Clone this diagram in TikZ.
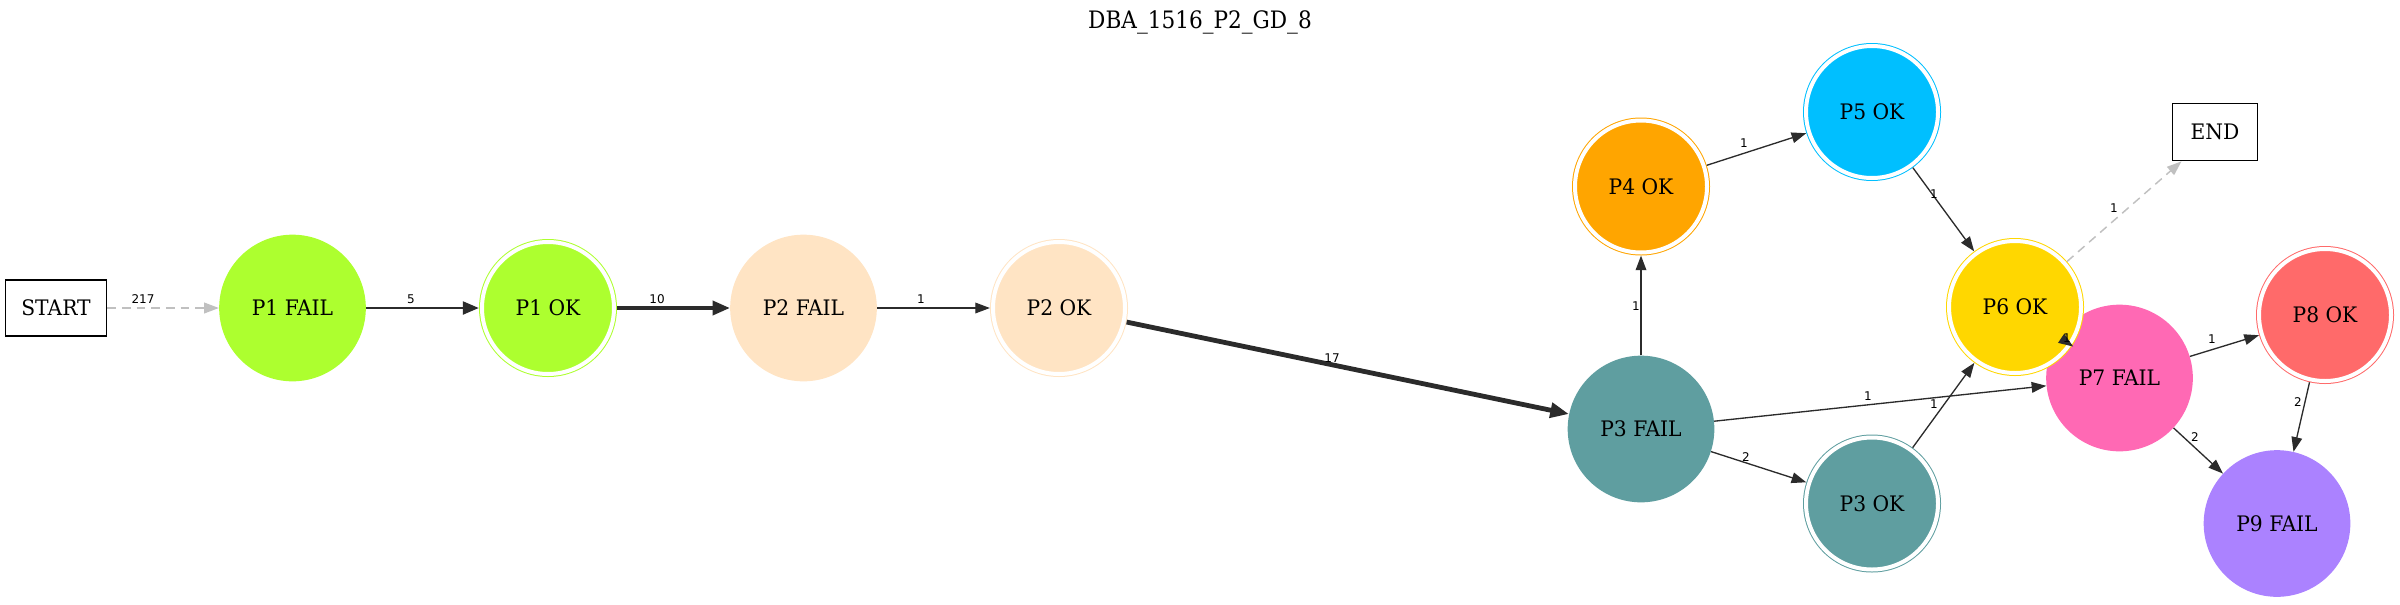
\documentclass[tikz,border=0pt]{standalone}
\usepackage{fontspec}
\setmainfont{DejaVu Serif}[FakeStretch=0.95]
\newfontfamily\titlefont{DejaVu Serif}[FakeStretch=0.9]
\newfontfamily\lblfont{DejaVu Sans}
\usetikzlibrary{arrows.meta,calc}
\definecolor{cP1}{HTML}{ADFF2F}
\definecolor{cP2}{HTML}{FFE4C4}
\definecolor{cP3}{HTML}{5F9EA0}
\definecolor{cP4}{HTML}{FFA500}
\definecolor{cP5}{HTML}{00BFFF}
\definecolor{cP6}{HTML}{FFD700}
\definecolor{cP7}{HTML}{FF69B4}
\definecolor{cP8}{HTML}{FF6A6A}
\definecolor{cP9}{HTML}{AB82FF}
\definecolor{edgec}{HTML}{2B2B2B}
\definecolor{grayc}{HTML}{C0C0C0}
\tikzset{
  nodetext/.style={font=\fontsize{16pt}{18pt}\selectfont},
  failnode/.style={nodetext, circle, fill=#1, draw=none, minimum size=110pt, inner sep=0pt},
  oknode/.style={nodetext, circle, fill=#1, draw=#1, double=white, double distance=3pt, line width=0.75pt, minimum size=99pt, inner sep=0pt, outer sep=2.3pt},
  boxnode/.style={nodetext, rectangle, draw=black, line width=1pt, inner sep=0pt},
  lbl/.style={font=\lblfont\fontsize{9pt}{10pt}\selectfont, inner sep=0pt, text=black},
  edge/.style={draw=edgec, line width=1pt, -{Triangle[length=11pt,width=8pt]}},
  edgeA/.style={draw=edgec, line width=2.2pt, -{Triangle[length=12pt,width=9.5pt]}},
  edgeB/.style={draw=edgec, line width=2.8pt, -{Triangle[length=13pt,width=10.5pt]}},
  edgeC/.style={draw=edgec, line width=3.6pt, -{Triangle[length=14pt,width=11pt]}},
  gedge/.style={draw=grayc, line width=1.1pt, dash pattern=on 6.5pt off 4.5pt, -{Triangle[length=11pt,width=8pt]}},
}
\begin{document}
\begin{tikzpicture}[x=0.75pt,y=-0.75pt]
\useasboundingbox (0,0) rectangle (2400,604);
\node[font=\titlefont\fontsize{18pt}{20pt}\selectfont] (title) at (1200,22) {DBA\_1516\_P2\_GD\_8};
% nodes
\node[boxnode, minimum width=75.75pt, minimum height=42pt] (start) at (56,308) {START};
\node[boxnode, minimum width=64pt, minimum height=43pt] (end) at (2215,132) {END};
\node[failnode=cP1] (p1f) at (292.5,308) {P1 FAIL};
\node[oknode=cP1] (p1o) at (548,308) {P1 OK};
\node[failnode=cP2] (p2f) at (803.5,308) {P2 FAIL};
\node[oknode=cP2] (p2o) at (1059,308) {P2 OK};
\node[failnode=cP3] (p3f) at (1641,429) {P3 FAIL};
\node[oknode=cP4] (p4o) at (1641,186.5) {P4 OK};
\node[oknode=cP5] (p5o) at (1872,112) {P5 OK};
\node[oknode=cP3] (p3o) at (1872,503.5) {P3 OK};
\node[failnode=cP7] (p7f) at (2119.5,378) {P7 FAIL};
\node[oknode=cP6] (p6o) at (2015,307) {P6 OK};
\node[oknode=cP8] (p8o) at (2325,315) {P8 OK};
\node[failnode=cP9] (p9f) at (2277,523.5) {P9 FAIL};
% edges
\draw[gedge] (start) -- (p1f);
\draw[edgeA] (p1f) -- (p1o);
\draw[edgeB] (p1o) -- (p2f);
\draw[edge] (p2f) -- (p2o);
\draw[edgeC] (p2o) -- (p3f);
\draw[edge] (p3f) -- (p4o);
\draw[edge] (p4o) -- (p5o);
\draw[edge] (p5o) -- (p6o);
\draw[edge] (p3f) -- (p7f);
\draw[edge] (p3f) -- (p3o);
\draw[edge] (p3o) -- (p6o);
\draw[gedge] (p6o) -- (end);
\draw[edge] ($(p6o.center)!0.45!(p7f.center)$) -- ($(p6o.center)!0.557!(p7f.center)$);
\draw[edge] (p7f) -- (p8o);
\draw[edge] (p7f) -- (p9f);
\draw[edge] (p8o) -- (p9f);
% labels
\node[lbl] (l1) at (143,299) {217};
\node[lbl] (l2) at (411,299) {5};
\node[lbl] (l3) at (657,299) {10};
\node[lbl] (l4) at (921,299) {1};
\node[lbl] (l5) at (1332,358) {17};
\node[lbl] (l6) at (1636,306) {1};
\node[lbl] (l7) at (1744,143) {1};
\node[lbl] (l8) at (1934,194) {1};
\node[lbl] (l9) at (1868,396) {1};
\node[lbl] (l10) at (1934,404) {1};
\node[lbl] (l11) at (1746,457) {2};
\node[lbl] (l12) at (2114,208) {1};
\node[lbl] (l13) at (2067,338) {1};
\node[lbl] (l14) at (2212,339) {1};
\node[lbl] (l15) at (2195,437) {2};
\node[lbl] (l16) at (2298,402) {2};
\end{tikzpicture}
\end{document}
